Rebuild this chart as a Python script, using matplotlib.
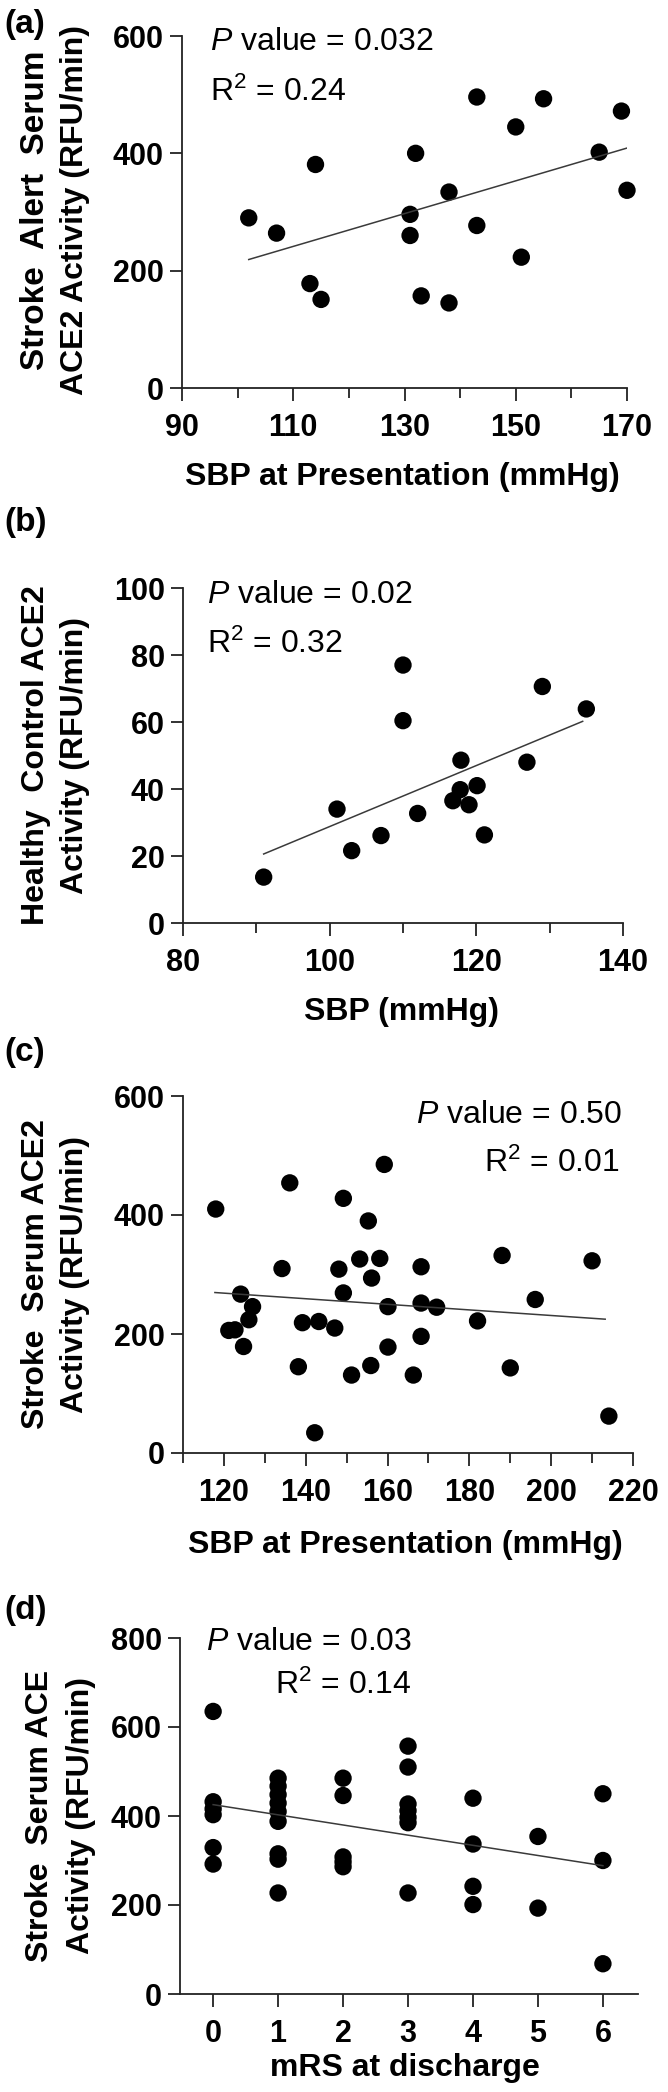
import matplotlib
matplotlib.use("Agg")
import matplotlib.pyplot as plt

plt.rcParams['font.family'] = ['Liberation Sans', 'DejaVu Sans']
plt.rcParams['mathtext.fontset'] = 'custom'
plt.rcParams['mathtext.rm'] = 'Liberation Sans'
plt.rcParams['mathtext.it'] = 'Liberation Sans:italic'
plt.rcParams['mathtext.bf'] = 'Liberation Sans:bold'

# ---------------- data ----------------
# (a) Stroke alert serum ACE2 vs SBP at presentation
a_sbp = [102, 107, 114, 113, 115, 132, 131, 131, 133, 138, 138, 143, 143, 150, 151, 155, 165, 169, 170]
a_ace2 = [290, 264, 381, 178, 151, 400, 296, 260, 157, 334, 145, 496, 277, 445, 223, 493, 402, 472, 337]
a_fit_x = [102, 170]
a_fit_y = [219, 409]

# (b) Healthy control ACE2 vs SBP
b_sbp = [91, 101, 103, 107, 110, 110, 112, 116.8, 117.9, 117.8, 119, 120.1, 121.1, 126.9, 129, 135]
b_ace2 = [13.7, 34.0, 21.6, 26.1, 77.0, 60.4, 32.7, 36.5, 48.6, 39.8, 35.3, 41.0, 26.3, 48.0, 70.6, 63.9]
b_fit_x = [91, 134.5]
b_fit_y = [20.6, 60.2]

# (c) Stroke serum ACE2 vs SBP at presentation
c_sbp = [118.0, 121.2, 122.7, 124.1, 124.8, 126.1, 127.0, 134.2, 136.1, 138.2, 139.2, 142.2,
         143.2, 147.1, 148.1, 149.2, 149.2, 151.2, 153.2, 155.3, 155.9, 156.1, 158.1, 159.2,
         160.1, 160.1, 166.3, 168.2, 168.2, 168.2, 172.0, 182.0, 188.0, 190.0, 196.1, 210.0, 214.1]
c_ace2 = [410, 206, 207, 267, 179, 224, 246, 310, 454, 145, 219, 34,
          221, 210, 309, 269, 428, 131, 326, 390, 147, 294, 327, 485,
          246, 178, 131, 313, 252, 196, 245, 222, 332, 143, 258, 323, 62]
c_fit_x = [117.8, 213.2]
c_fit_y = [269.7, 224.9]

# (d) Stroke serum ACE vs mRS at discharge
d_mrs = [0, 0, 0, 0, 0, 0,
         1, 1, 1, 1, 1, 1, 1, 1, 1,
         2, 2, 2, 2, 2,
         3, 3, 3, 3, 3, 3, 3,
         4, 4, 4, 4,
         5, 5,
         6, 6, 6]
d_ace = [635, 432, 416, 403, 329, 292,
         485, 467, 448, 429, 410, 388, 315, 303, 227,
         485, 446, 308, 297, 286,
         557, 510, 427, 412, 397, 385, 227,
         440, 337, 242, 201,
         354, 193,
         450, 300, 68]
d_fit_x = [0, 6]
d_fit_y = [425.5, 288.4]

# ---------------- layout ----------------
W, H = 668, 2092
fig = plt.figure(figsize=(W / 100, H / 100), dpi=100)


def make_ax(left, right, top, bottom):
    return fig.add_axes([left / W, 1 - bottom / H, (right - left) / W, (bottom - top) / H])


FS = 23
TICKFS = 22


def style(ax, xlim, ylim, xmajor, xminor, yticks):
    ax.set_xlim(*xlim)
    ax.set_ylim(*ylim)
    for s in ('top', 'right'):
        ax.spines[s].set_visible(False)
    for s in ('left', 'bottom'):
        ax.spines[s].set_linewidth(1.3)
        ax.spines[s].set_color('#222222')
    ax.set_xticks(xmajor)
    ax.set_xticks(xminor, minor=True)
    ax.set_yticks(yticks)
    ax.tick_params(axis='both', which='major', direction='out', length=9, width=1.3,
                   labelsize=TICKFS, color='#222222')
    ax.tick_params(axis='x', which='major', pad=9)
    ax.tick_params(axis='y', which='major', pad=4)
    ax.tick_params(axis='x', which='minor', direction='out', length=7, width=1.3, color='#222222')
    for lab in ax.get_xticklabels() + ax.get_yticklabels():
        lab.set_fontweight('bold')


def scatter(ax, x, y, fx, fy):
    ax.scatter(x, y, s=12.5 ** 2, color='black', edgecolors='none', zorder=3, clip_on=False)
    ax.plot(fx, fy, color='#3a3a3a', lw=1.1, zorder=4)


def labels(ax, left, right, top, bottom, xlabel, xl_x, xl_y, yline1, yline2, y1_x, y2_x,
           y1_size=FS, y_center=None):
    w = right - left
    h = bottom - top
    ax.set_xlabel(xlabel, fontsize=FS, fontweight='bold', va='center')
    ax.xaxis.set_label_coords((xl_x - left) / w, (bottom - xl_y) / h)
    ax.set_ylabel(yline2, fontsize=FS, fontweight='bold', va='center')
    yc = 0.5 if y_center is None else (bottom - y_center) / h
    ax.yaxis.set_label_coords((y2_x - left) / w, yc)
    ax.text((y1_x - left) / w, yc, yline1, transform=ax.transAxes, rotation=90,
            fontsize=y1_size, fontweight='bold', ha='center', va='center')


def annot(ax, left, right, top, bottom, x, y, s, ha):
    ax.text((x - left) / (right - left), (bottom - y) / (bottom - top), s,
            transform=ax.transAxes, fontsize=FS, ha=ha, va='center')


# (a)
L, R, T, B = 182, 627, 36, 388
ax = make_ax(L, R, T, B)
scatter(ax, a_sbp, a_ace2, a_fit_x, a_fit_y)
style(ax, (90, 170), (0, 600), [90, 110, 130, 150, 170], [100, 120, 140, 160], [0, 200, 400, 600])
labels(ax, L, R, T, B, 'SBP at Presentation (mmHg)', 402, 477,
       'Stroke  Alert  Serum', 'ACE2 Activity (RFU/min)', 36, 75, y1_size=24, y_center=210)
annot(ax, L, R, T, B, 210, 42, r'$\it{P}$ value = 0.032', 'left')
annot(ax, L, R, T, B, 210, 92, r'R$^2$ = 0.24', 'left')

# (b)
L, R, T, B = 183, 623, 588, 923
ax = make_ax(L, R, T, B)
scatter(ax, b_sbp, b_ace2, b_fit_x, b_fit_y)
style(ax, (80, 140), (0, 100), [80, 100, 120, 140], [90, 110, 130], [0, 20, 40, 60, 80, 100])
labels(ax, L, R, T, B, 'SBP (mmHg)', 402, 1012,
       'Healthy  Control ACE2', 'Activity (RFU/min)', 36, 75)
annot(ax, L, R, T, B, 207, 595, r'$\it{P}$ value = 0.02', 'left')
annot(ax, L, R, T, B, 207, 644, r'R$^2$ = 0.32', 'left')

# (c)
L, R, T, B = 183, 633, 1096, 1453
ax = make_ax(L, R, T, B)
scatter(ax, c_sbp, c_ace2, c_fit_x, c_fit_y)
style(ax, (110, 220), (0, 600), [120, 140, 160, 180, 200, 220],
      [110, 130, 150, 170, 190, 210], [0, 200, 400, 600])
labels(ax, L, R, T, B, 'SBP at Presentation (mmHg)', 405, 1545,
       'Stroke  Serum ACE2', 'Activity (RFU/min)', 36, 75)
annot(ax, L, R, T, B, 622, 1115, r'$\it{P}$ value = 0.50', 'right')
annot(ax, L, R, T, B, 620, 1163, r'R$^2$ = 0.01', 'right')

# (d)
L, R, T, B = 180, 638, 1638, 1994
ax = make_ax(L, R, T, B)
scatter(ax, d_mrs, d_ace, d_fit_x, d_fit_y)
style(ax, (-0.51, 6.54), (0, 800), [0, 1, 2, 3, 4, 5, 6], [], [0, 200, 400, 600, 800])
labels(ax, L, R, T, B, 'mRS at discharge', 405, 2068,
       'Stroke  Serum ACE', 'Activity (RFU/min)', 40, 81)
annot(ax, L, R, T, B, 412, 1642, r'$\it{P}$ value = 0.03', 'right')
annot(ax, L, R, T, B, 412, 1685, r'R$^2$ = 0.14', 'right')

# panel letters
for lab, y in [('(a)', 24), ('(b)', 522), ('(c)', 1052), ('(d)', 1610)]:
    fig.text(4 / W, 1 - y / H, lab, fontsize=24, fontweight='bold', ha='left', va='center')

fig.savefig('out.png', dpi=100, facecolor='white')
